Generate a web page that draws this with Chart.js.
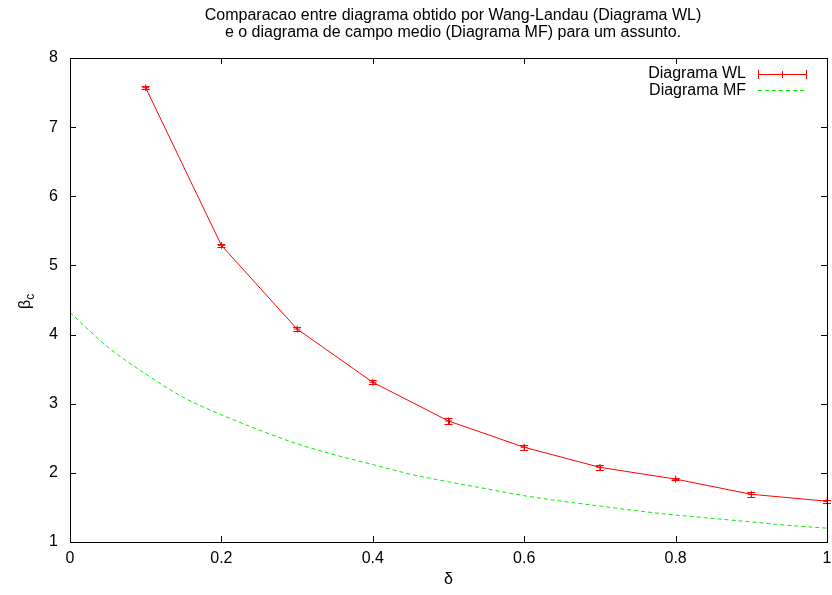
<!DOCTYPE html>
<html><head><meta charset="utf-8">
<script src="https://cdn.jsdelivr.net/npm/chart.js@4/dist/chart.umd.min.js"></script>
<style>html,body{margin:0;padding:0;background:#fff}#wrap{width:832px;height:595px}</style>
</head><body><div id="wrap"><canvas id="c" width="832" height="595"></canvas></div>
<script>
const titleLines = ["Comparacao entre diagrama obtido por Wang-Landau (Diagrama WL)", "e o diagrama de campo medio (Diagrama MF) para um assunto."];
const wlDelta = [0.1,0.2,0.3,0.4,0.5,0.6,0.7,0.8,0.9,1.0];
const wlBeta  = [7.57,5.29,4.08,3.31,2.75,2.37,2.08,1.91,1.69,1.59];
const wlErr   = [0.025,0.02,0.025,0.03,0.04,0.04,0.035,0.02,0.04,0.02];
const mfDelta = [0,0.05,0.1,0.15,0.2,0.25,0.3,0.35,0.4,0.45,0.5,0.55,0.6,0.65,0.7,0.75,0.8,0.85,0.9,0.95,1.0];
const mfBeta  = [4.32,3.82,3.43,3.09,2.84,2.62,2.42,2.26,2.12,1.98,1.87,1.77,1.67,1.59,1.52,1.45,1.39,1.34,1.29,1.24,1.2];
const xTicks = [0,0.2,0.4,0.6,0.8,1];
const yTicks = [1,2,3,4,5,6,7,8];
const seriesNames = ["Diagrama WL","Diagrama MF"];

const FONT = "Liberation Sans, Arial, sans-serif";

const framePlugin = {
  id:'frame',
  afterDraw(chart){
    const {ctx, chartArea:a, scales:{x,y}} = chart;
    ctx.save();
    ctx.setLineDash([]);
    ctx.lineWidth = 1;
    // error bars
    ctx.strokeStyle = '#ff0000';
    wlDelta.forEach((d,i)=>{
      const px = x.getPixelForValue(d);
      const y1 = y.getPixelForValue(wlBeta[i]-wlErr[i]);
      const y2 = y.getPixelForValue(wlBeta[i]+wlErr[i]);
      ctx.beginPath();
      ctx.moveTo(Math.round(px)+0.5,y1); ctx.lineTo(Math.round(px)+0.5,y2);
      ctx.moveTo(px-4,Math.round(y1)+0.5); ctx.lineTo(px+4,Math.round(y1)+0.5);
      ctx.moveTo(px-4,Math.round(y2)+0.5); ctx.lineTo(px+4,Math.round(y2)+0.5);
      ctx.stroke();
    });
    // frame
    ctx.strokeStyle = '#000';
    ctx.strokeRect(Math.round(a.left)+0.5, Math.round(a.top)+0.5, Math.round(a.right-a.left), Math.round(a.bottom-a.top));
    ctx.beginPath();
    xTicks.forEach(v=>{
      const px = Math.round(x.getPixelForValue(v))+0.5;
      ctx.moveTo(px,a.bottom); ctx.lineTo(px,a.bottom-6);
      ctx.moveTo(px,a.top); ctx.lineTo(px,a.top+6);
    });
    yTicks.forEach(v=>{
      const py = Math.round(y.getPixelForValue(v))+0.5;
      ctx.moveTo(a.left,py); ctx.lineTo(a.left+6,py);
      ctx.moveTo(a.right,py); ctx.lineTo(a.right-6,py);
    });
    ctx.stroke();
    // title
    ctx.fillStyle = '#000';
    ctx.font = '16px ' + FONT;
    ctx.textAlign = 'center'; ctx.textBaseline = 'alphabetic';
    ctx.fillText(titleLines[0], 453, 20);
    ctx.fillText(titleLines[1], 453, 37);
    // axis titles
    ctx.textBaseline = 'middle';
    ctx.font = '16px ' + FONT;
    ctx.fillText('δ', x.getPixelForValue(0.5), 580);
    ctx.save();
    ctx.translate(26, 300);
    ctx.rotate(-Math.PI/2);
    ctx.textAlign = 'left';
    ctx.font = '16px ' + FONT;
    const bw = ctx.measureText('β').width;
    ctx.fillText('β', -9, 0);
    ctx.font = '12px ' + FONT;
    ctx.fillText('c', -9 + bw, 5);
    ctx.restore();
    // legend
    ctx.font = '16px ' + FONT;
    ctx.textAlign = 'right';
    ctx.fillText(seriesNames[0], 746, 74);
    ctx.fillText(seriesNames[1], 746, 91);
    ctx.strokeStyle = '#ff0000';
    ctx.beginPath();
    ctx.moveTo(758,74.5); ctx.lineTo(807,74.5);
    ctx.moveTo(758.5,70); ctx.lineTo(758.5,79);
    ctx.moveTo(806.5,70); ctx.lineTo(806.5,79);
    ctx.moveTo(782.5,71); ctx.lineTo(782.5,78);
    ctx.stroke();
    ctx.strokeStyle = '#00ee00';
    ctx.setLineDash([4,3]);
    ctx.beginPath();
    ctx.moveTo(758,90.5); ctx.lineTo(807,90.5);
    ctx.stroke();
    ctx.restore();
  }
};

new Chart(document.getElementById('c'), {
  type:'scatter',
  data:{
    datasets:[
      {label:seriesNames[0], data: wlDelta.map((d,i)=>({x:d,y:wlBeta[i]})), showLine:true,
       borderColor:'#ff0000', backgroundColor:'#ff0000', borderWidth:1, pointStyle:'cross', pointRadius:3.5,
       pointBorderWidth:1, tension:0},
      {label:seriesNames[1], data: mfDelta.map((d,i)=>({x:d,y:mfBeta[i]})), showLine:true,
       borderColor:'#00ee00', borderWidth:1, borderDash:[4,3], pointRadius:0, tension:0.4, cubicInterpolationMode:'monotone'}
    ]
  },
  options:{
    responsive:false, animation:false, events:[],
    layout:{padding:{top:58,right:0,left:0,bottom:0}},
    plugins:{legend:{display:false}, title:{display:false}, tooltip:{enabled:false}},
    scales:{
      x:{type:'linear', min:0, max:1,
         afterFit(s){s.height=53; s.paddingRight=0; s.paddingLeft=0;},
         afterBuildTicks(s){s.ticks = xTicks.map(v=>({value:v}));},
         grid:{display:false, drawTicks:false}, border:{display:false},
         ticks:{color:'#000', font:{family:FONT, size:16}, padding:7, maxRotation:0,
                callback:(v)=>String(v)}},
      y:{type:'linear', min:1, max:8,
         afterFit(s){s.width=70; s.paddingTop=0; s.paddingBottom=0;},
         afterBuildTicks(s){s.ticks = yTicks.map(v=>({value:v}));},
         grid:{display:false, drawTicks:false}, border:{display:false},
         ticks:{color:'#000', font:{family:FONT, size:16}, padding:12,
                callback:(v)=>String(v)}}
    }
  },
  plugins:[framePlugin]
});
</script></body></html>
